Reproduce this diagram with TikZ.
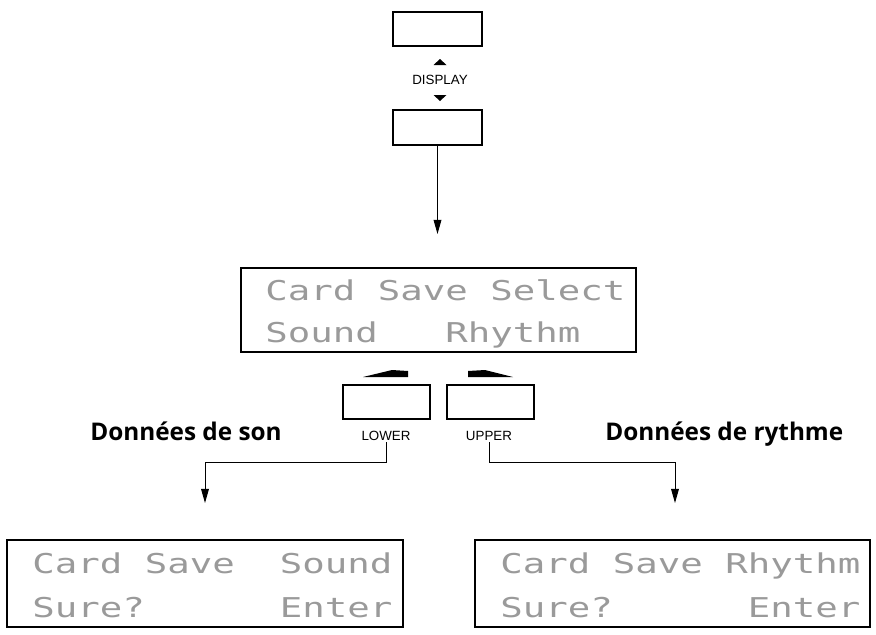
\documentclass[tikz,border=0pt]{standalone}
\usepackage{fontspec}
\usepackage{graphicx}
\usetikzlibrary{arrows.meta}
\newfontfamily\lcdfont{DejaVu Sans Mono}
\newfontfamily\capfont{Open Sans}
\newfontfamily\keyfont{Liberation Sans}
\definecolor{lcdgray}{HTML}{9A9A9A}
\newcommand{\lcdline}[1]{\scalebox{1.37}[1]{#1}}

\begin{document}
\begin{tikzpicture}[x=0.025cm, y=-0.025cm,
  frame/.style={draw, line width=1.1pt, inner sep=0pt},
  lcd/.style={frame, minimum height=2.175cm},
  key/.style={frame, minimum width=2.175cm, minimum height=0.85cm},
  lcdtxt/.style={anchor=base west, inner sep=0pt, text=lcdgray,
                 font=\lcdfont\fontsize{19.4}{20}\selectfont},
  keylbl/.style={inner sep=1pt, font=\keyfont\fontsize{9.5}{10}\selectfont},
  head/.style={anchor=base west, inner sep=0pt,
               font=\capfont\bfseries\fontsize{17.3}{18}\selectfont},
  flow/.style={line width=0.7pt, -{Triangle[length=10pt, width=5.5pt]}},
]
\useasboundingbox (0,0) rectangle (876,634);
% display toggle
\node[frame, minimum width=2.225cm, minimum height=0.85cm]  (disp1) at (437.5,29) {};
\node[frame, minimum width=2.225cm, minimum height=0.875cm] (disp2) at (437.5,127.5) {};
\node[keylbl] (display) at (440,80) {DISPLAY};
\fill (433.5,65) -- (446.5,65) -- (440,59) -- cycle;
\fill (433.5,95) -- (446.5,95) -- (440,101) -- cycle;
% select screen
\node[lcd, minimum width=9.875cm, minimum height=2.1cm] (select) at (438.5,310) {};
\node[lcdtxt] (selA) at (265,300) {\lcdline{Card Save Select}};
\node[lcdtxt] (selB) at (265,342) {\lcdline{Sound~~~Rhythm}};
\draw[flow, shorten >=0.83cm] (disp2.south) -- (disp2.south |- select.north);
% keys
\node[key] (lowerkey) at (386.5,402) {};
\node[key] (upperkey) at (490.5,402) {};
\node[keylbl] (lower) at (386,436) {LOWER};
\node[keylbl] (upper) at (489,436) {UPPER};
\fill (363,377) -- (392,370) -- (408,371) -- (408,377) -- cycle;
\fill (513,377) -- (485,370) -- (468,371) -- (468,377) -- cycle;
\node[head] (son)    at (90,440)  {Données de son};
\node[head] (rythme) at (605,440) {Données de rythme};
% confirm screens
\node[lcd, minimum width=9.9cm]   (sonlcd) at (205,583.5) {};
\node[lcd, minimum width=9.875cm] (rylcd)  at (672.5,583.5) {};
\node[lcdtxt] (sonA) at (32,573)  {\lcdline{Card Save~~Sound}};
\node[lcdtxt] (sonB) at (32,617)  {\lcdline{Sure?~~~~~~Enter}};
\node[lcdtxt] (ryA)  at (500,573) {\lcdline{Card Save Rhythm}};
\node[lcdtxt] (ryB)  at (500,617) {\lcdline{Sure?~~~~~~Enter}};
\coordinate (sonknee) at (386,462);
\coordinate (ryknee)  at (489,462);
\coordinate (sonend)  at (205,503);
\coordinate (ryend)   at (675,503);
\draw[flow] (lower.south) -- (sonknee) -| (sonend);
\draw[flow] (upper.south) -- (ryknee) -| (ryend);
\end{tikzpicture}
\end{document}
